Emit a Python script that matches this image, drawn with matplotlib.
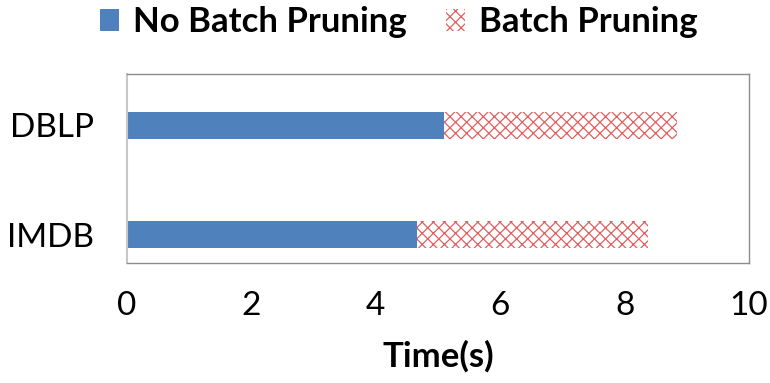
import numpy as np
import matplotlib.pyplot as plt

plt.rcParams['font.family'] = ['Lato', 'DejaVu Sans']
plt.rcParams['hatch.linewidth'] = 0.9

# data
datasets = ["IMDB", "DBLP"]
no_batch = [4.67, 5.10]          # time (s)
batch_extra = [3.70, 3.74]       # additional time stacked after no-batch part
xticks = [0, 2, 4, 6, 8, 10]

fig = plt.figure(figsize=(7.7, 3.83), dpi=100)
ax = fig.add_axes([0.165, 0.3133, 0.8077, 0.4935])

y = np.arange(len(datasets))
ax.barh(y, no_batch, height=0.25, color='#4f81bd', label='No Batch Pruning')
ax.barh(y, batch_extra, left=no_batch, height=0.25, color='white',
        edgecolor='#e06060', linewidth=0, hatch='xxx', label='Batch Pruning')

ax.set_xlim(0, 10)
ax.set_ylim(-0.26, 1.47)
ax.set_xticks(xticks)
ax.set_xticklabels([str(t) for t in xticks], fontsize=24)
ax.set_yticks(y)
ax.set_yticklabels(datasets, fontsize=24)
ax.tick_params(axis='both', length=0)
ax.tick_params(axis='x', pad=20)
ax.tick_params(axis='y', pad=24)
ax.set_xlabel("Time(s)", fontsize=25, fontweight='bold', labelpad=14)

for s in ['top', 'right', 'bottom']:
    ax.spines[s].set_color('#8c8c8c')
    ax.spines[s].set_linewidth(1.0)
ax.spines['left'].set_color('#c8c8c8')
ax.spines['left'].set_linewidth(1.5)

fig.legend(loc='upper center', bbox_to_anchor=(0.518, 1.065), ncol=2, frameon=False,
           prop={'size': 25, 'weight': 'bold'}, handlelength=0.55, handleheight=0.6,
           handletextpad=0.4, columnspacing=1.15)

fig.savefig('out.png', dpi=100)
